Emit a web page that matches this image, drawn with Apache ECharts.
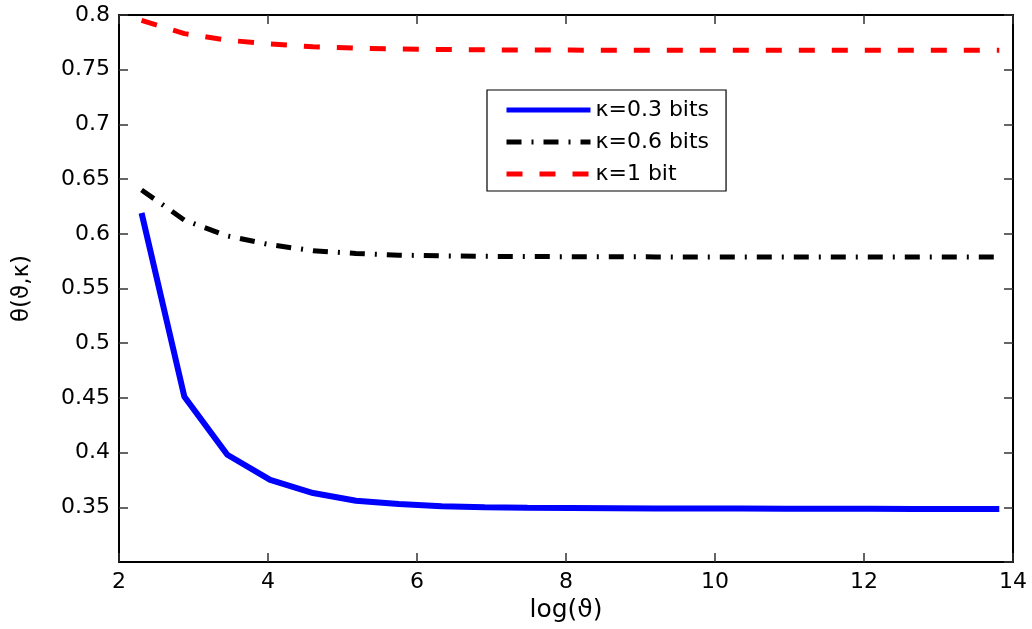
<!DOCTYPE html>
<html>
<head>
<meta charset="utf-8">
<script src="https://cdn.jsdelivr.net/npm/echarts@6/dist/echarts.min.js"></script>
<style>
  html, body { margin: 0; padding: 0; background: #fff; }
  #chart { width: 1032px; height: 629px; }
</style>
</head>
<body>
<div id="chart"></div>
<script>
// Sample positions on the log axis
const logTheta = [2.303, 2.878, 3.454, 4.029, 4.605, 5.181, 5.756, 6.332, 6.908, 7.483,
                  8.059, 8.635, 9.210, 9.786, 10.362, 10.937, 11.513, 12.089, 12.664, 13.240, 13.816];

// θ(ϑ,κ) for each κ
const kappa03 = [0.619, 0.451, 0.398, 0.375, 0.363, 0.356, 0.353, 0.351, 0.350, 0.3496,
                 0.3494, 0.3492, 0.3490, 0.3489, 0.3488, 0.3487, 0.3486, 0.3486, 0.3485, 0.3485, 0.3485];
const kappa06 = [0.640, 0.6125, 0.598, 0.590, 0.5845, 0.582, 0.5805, 0.5798, 0.5794, 0.5792,
                 0.5791, 0.5790, 0.5789, 0.5789, 0.5788, 0.5788, 0.5788, 0.5788, 0.5788, 0.5788, 0.5788];
const kappa1  = [0.795, 0.783, 0.777, 0.7735, 0.771, 0.7697, 0.769, 0.7685, 0.7682, 0.7680,
                 0.7679, 0.7678, 0.7678, 0.7677, 0.7677, 0.7677, 0.7677, 0.7677, 0.7677, 0.7677, 0.7677];

const seriesNames = ['κ=0.3 bits', 'κ=0.6 bits', 'κ=1 bit'];

const pairs = ys => logTheta.map((x, i) => [x, ys[i]]);

const font = '"DejaVu Sans", sans-serif';
const axisCommon = {
  axisLine: { show: true, lineStyle: { color: '#000', width: 2 } },
  axisTick: { show: true, inside: true, length: 9, lineStyle: { color: '#333', width: 1.5 } },
  splitLine: { show: false }
};

const chart = echarts.init(document.getElementById('chart'), null, { renderer: 'canvas' });
chart.setOption({
  animation: false,
  backgroundColor: '#fff',
  grid: { left: 119, right: 19, top: 15, bottom: 67, containLabel: false },
  xAxis: [
    Object.assign({
      type: 'value', min: 2, max: 14, interval: 2, position: 'bottom',
      name: 'log(ϑ)', nameLocation: 'middle', nameGap: 33,
      nameTextStyle: { fontFamily: font, fontSize: 25, color: '#000' },
      axisLabel: { fontFamily: font, fontSize: 22, color: '#000', margin: 9 }
    }, axisCommon),
    Object.assign({
      type: 'value', min: 2, max: 14, interval: 2, position: 'top',
      axisLabel: { show: false }
    }, axisCommon)
  ],
  yAxis: [
    Object.assign({
      type: 'value', min: 0.3, max: 0.8, interval: 0.05, position: 'left',
      name: 'θ(ϑ,κ)', nameLocation: 'middle', nameGap: 85, nameRotate: 90,
      nameTextStyle: { fontFamily: font, fontSize: 23, color: '#000' },
      axisLabel: {
        fontFamily: font, fontSize: 22, color: '#000', margin: 9, showMinLabel: false,
        formatter: v => String(parseFloat(v.toFixed(2)))
      }
    }, axisCommon),
    Object.assign({
      type: 'value', min: 0.3, max: 0.8, interval: 0.05, position: 'right',
      axisLabel: { show: false }
    }, axisCommon)
  ],
  legend: {
    orient: 'vertical',
    left: 487, top: 90,
    padding: [9, 17, 6, 17],
    itemWidth: 84, itemHeight: 14, itemGap: 10,
    borderColor: '#000', borderWidth: 1.2, borderRadius: 0,
    backgroundColor: '#fff',
    data: seriesNames,
    itemStyle: { opacity: 0 },
    lineStyle: { width: 5 },
    textStyle: { fontFamily: font, fontSize: 22, color: '#000', lineHeight: 20 }
  },
  series: [
    {
      name: seriesNames[0], type: 'line', data: pairs(kappa03),
      symbol: 'none', lineStyle: { color: '#0000ff', width: 6 }, itemStyle: { color: '#0000ff' }
    },
    {
      name: seriesNames[1], type: 'line', data: pairs(kappa06),
      symbol: 'none',
      lineStyle: { color: '#000', width: 5, type: [15, 10, 2, 10], cap: 'butt' },
      itemStyle: { color: '#000' }
    },
    {
      name: seriesNames[2], type: 'line', data: pairs(kappa1),
      symbol: 'none',
      lineStyle: { color: '#ff0000', width: 5, type: [16, 17], cap: 'butt' },
      itemStyle: { color: '#ff0000' }
    }
  ]
});
</script>
</body>
</html>
